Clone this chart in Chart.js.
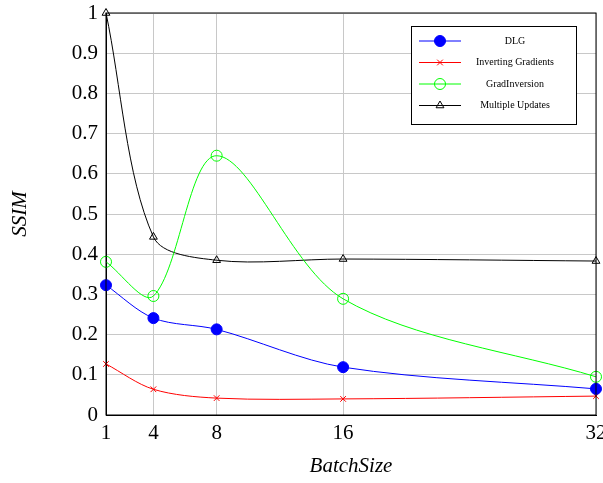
<!DOCTYPE html>
<html>
<head>
<meta charset="utf-8">
<script src="https://cdn.jsdelivr.net/npm/chart.js@4"></script>
<style>
  html, body { margin: 0; padding: 0; background: #fff; }
  #wrap { width: 603px; height: 483px; }
</style>
</head>
<body>
<div id="wrap"><canvas id="myChart" width="603" height="483"></canvas></div>
<script>
// tamaños de lote (eje x)
var batchSizes = [1, 4, 8, 16, 32];
var xTicks = [1, 4, 8, 16, 32];

// valores SSIM por método
var dlg = [0.323, 0.241, 0.213, 0.119, 0.065];
var invertingGradients = [0.127, 0.064, 0.042, 0.040, 0.047];
var gradInversion = [0.381, 0.296, 0.645, 0.289, 0.095];
var multipleUpdates = [1.0, 0.443, 0.385, 0.388, 0.383];

var serif = '"Liberation Serif", "DejaVu Serif", serif';

function toPoints(values) {
  return values.map(function (v, i) { return { x: batchSizes[i], y: v }; });
}

// leyenda dibujada dentro del área del gráfico
var boxLegend = {
  id: 'boxLegend',
  afterDraw: function (chart) {
    var ctx = chart.ctx;
    var x0 = 411, y0 = 26, w = 165, h = 98;
    ctx.save();
    ctx.fillStyle = '#fff';
    ctx.fillRect(x0, y0, w, h);
    ctx.strokeStyle = '#000';
    ctx.lineWidth = 1;
    ctx.strokeRect(x0 + 0.5, y0 + 0.5, w, h);
    chart.data.datasets.forEach(function (ds, i) {
      var y = 41 + i * 21.5;
      ctx.strokeStyle = ds.borderColor;
      ctx.lineWidth = 1;
      ctx.beginPath();
      ctx.moveTo(419, y);
      ctx.lineTo(461, y);
      ctx.stroke();
      ctx.fillStyle = ds.pointBackgroundColor;
      ctx.strokeStyle = ds.borderColor;
      ctx.lineWidth = 1;
      Chart.helpers.drawPoint(ctx, {
        pointStyle: ds.pointStyle,
        radius: ds.pointRadius,
        rotation: 0,
        borderWidth: 1
      }, 440, y);
      ctx.fillStyle = '#000';
      ctx.font = '10px ' + serif;
      ctx.textAlign = 'center';
      ctx.textBaseline = 'middle';
      ctx.fillText(ds.label, 515, y);
    });
    ctx.restore();
  }
};

// marco negro alrededor del área
var frame = {
  id: 'frame',
  afterDatasetsDraw: function (chart) {
    var a = chart.chartArea;
    var ctx = chart.ctx;
    ctx.save();
    ctx.strokeStyle = '#000';
    ctx.lineWidth = 1;
    ctx.strokeRect(a.left, a.top, a.right - a.left, a.bottom - a.top);
    ctx.restore();
  }
};

var ctx = document.getElementById('myChart').getContext('2d');
var myChart = new Chart(ctx, {
  type: 'line',
  data: {
    datasets: [{
      label: 'DLG',
      data: toPoints(dlg),
      borderColor: '#0000ff',
      pointBackgroundColor: '#0000ff',
      pointStyle: 'circle',
      pointRadius: 5.5
    }, {
      label: 'Inverting Gradients',
      data: toPoints(invertingGradients),
      borderColor: '#ff0000',
      pointBackgroundColor: 'rgba(0,0,0,0)',
      pointStyle: 'crossRot',
      pointRadius: 4
    }, {
      label: 'GradInversion',
      data: toPoints(gradInversion),
      borderColor: '#00ff00',
      pointBackgroundColor: 'rgba(0,0,0,0)',
      pointStyle: 'circle',
      pointRadius: 5.5
    }, {
      label: 'Multiple Updates',
      data: toPoints(multipleUpdates),
      borderColor: '#000000',
      pointBackgroundColor: 'rgba(0,0,0,0)',
      pointStyle: 'triangle',
      pointRadius: 4.5
    }]
  },
  options: {
    responsive: false,
    animation: false,
    layout: { padding: { top: 13, right: 7, left: 0, bottom: 0 } },
    elements: {
      line: { borderWidth: 1, tension: 0.32, fill: false },
      point: { borderWidth: 1 }
    },
    datasets: { line: { clip: false } },
    plugins: {
      legend: { display: false },
      tooltip: { enabled: false }
    },
    scales: {
      x: {
        type: 'linear',
        min: 1,
        max: 32,
        afterBuildTicks: function (axis) {
          axis.ticks = xTicks.map(function (v) { return { value: v }; });
        },
        afterFit: function (axis) {
          axis.height = 68;
          axis.paddingLeft = 0;
          axis.paddingRight = 0;
        },
        grid: { color: '#c8c8c8', drawTicks: false },
        border: { color: '#000' },
        ticks: {
          color: '#000',
          padding: 6,
          maxRotation: 0,
          font: { family: serif, size: 21 }
        },
        title: {
          display: true,
          text: 'BatchSize',
          color: '#000',
          padding: { top: 0, bottom: 4 },
          font: { family: serif, size: 21, style: 'italic' }
        }
      },
      y: {
        min: 0,
        max: 1,
        afterFit: function (axis) {
          axis.width = 106;
          axis.paddingTop = 0;
          axis.paddingBottom = 0;
        },
        grid: { color: '#c8c8c8', drawTicks: false },
        border: { color: '#000' },
        ticks: {
          stepSize: 0.1,
          color: '#000',
          padding: 8,
          font: { family: serif, size: 21 },
          callback: function (v) { return String(Math.round(v * 10) / 10); }
        },
        title: {
          display: true,
          text: 'SSIM',
          color: '#000',
          padding: { top: 8, bottom: 0 },
          font: { family: serif, size: 21, style: 'italic' }
        }
      }
    }
  },
  plugins: [frame, boxLegend]
});
</script>
</body>
</html>
